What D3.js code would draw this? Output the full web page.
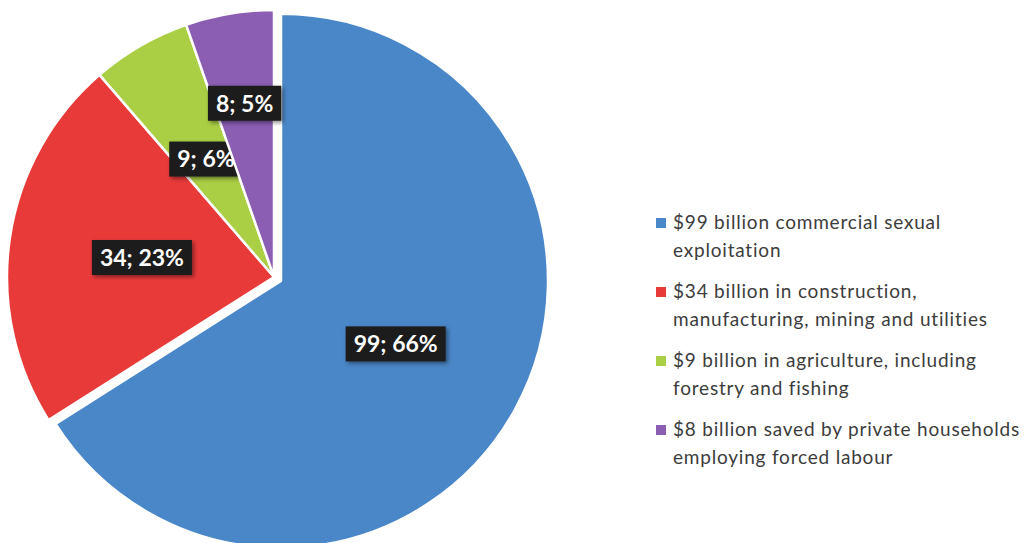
<!DOCTYPE html>
<html>
<head>
<meta charset="utf-8">
<script src="https://cdn.jsdelivr.net/npm/d3@7"></script>
<style>
  html, body { margin: 0; padding: 0; background: #fff; }
  .slice-label { font-family: Lato, "Open Sans", sans-serif; font-weight: bold; font-size: 23px; fill: #fff; }
  .legend-text { font-family: Lato, "Open Sans", sans-serif; font-size: 19px; letter-spacing: 0.8px; fill: #3c3c3c; }
</style>
</head>
<body>
<div id="chart"></div>
<script>
var values = [99, 34, 9, 8];
var colors = ["#4a87c8", "#e93a3a", "#aacf44", "#8b5db3"];
var legendLines = [
  ["$99 billion commercial sexual", "exploitation"],
  ["$34 billion in construction,", "manufacturing, mining and utilities"],
  ["$9 billion in agriculture, including", "forestry and fishing"],
  ["$8 billion saved by private households", "employing forced labour"]
];
var explode = [8, 0, 0, 0];
var labelRadii = [0.49, 0.5, 0.51, 0.66];

var width = 1024, height = 543;
var cx = 274, cy = 277, radius = 267;

var svg = d3.select("#chart").append("svg")
    .attr("width", width)
    .attr("height", height);

var defs = svg.append("defs");
var shadow = defs.append("filter").attr("id", "shadow")
    .attr("x", "-20%").attr("y", "-30%").attr("width", "150%").attr("height", "170%");
shadow.append("feDropShadow")
    .attr("dx", 2).attr("dy", 2).attr("stdDeviation", 2)
    .attr("flood-color", "#000").attr("flood-opacity", 0.45);

var total = d3.sum(values);
var pie = d3.pie().sort(null).value(function(d){ return d; });
var arcs = pie(values);
var arc = d3.arc().innerRadius(0).outerRadius(radius);

var pieGroup = svg.append("g")
    .attr("transform", "translate(" + cx + "," + cy + ")");

function offset(d, i){
    var mid = (d.startAngle + d.endAngle) / 2;
    return [Math.sin(mid) * explode[i], -Math.cos(mid) * explode[i]];
}

var slices = pieGroup.selectAll("g.slice")
    .data(arcs)
    .enter()
    .append("g")
    .attr("class", "slice")
    .attr("transform", function(d, i){
        var o = offset(d, i);
        return "translate(" + o[0] + "," + o[1] + ")";
    });

slices.append("path")
    .attr("d", arc)
    .attr("fill", function(d, i){ return colors[i]; })
    .attr("stroke", "#fff")
    .attr("stroke-width", 2.5)
    .attr("stroke-linejoin", "round");

var labels = slices.append("g")
    .attr("transform", function(d, i){
        var r = radius * labelRadii[i];
        var c = d3.arc().innerRadius(r).outerRadius(r).centroid(d);
        return "translate(" + c[0] + "," + c[1] + ")";
    });

labels.each(function(d, i){
    var g = d3.select(this);
    var box = g.append("rect")
        .attr("fill", "#1b1b1b")
        .attr("filter", "url(#shadow)");
    var t = g.append("text")
        .attr("class", "slice-label")
        .attr("text-anchor", "middle")
        .attr("dy", "0.36em")
        .text(d.data + "; " + Math.round(d.data / total * 100) + "%");
    var w = t.node().getComputedTextLength() + 16;
    var h = 35;
    box.attr("x", -w / 2).attr("y", -h / 2)
        .attr("width", w).attr("height", h);
});

var legend = svg.append("g")
    .attr("transform", "translate(656,229)");

var items = legend.selectAll("g.item")
    .data(legendLines)
    .enter()
    .append("g")
    .attr("class", "item")
    .attr("transform", function(d, i){ return "translate(0," + (i * 69) + ")"; });

items.append("rect")
    .attr("x", 0)
    .attr("y", -11)
    .attr("width", 10)
    .attr("height", 10)
    .attr("fill", function(d, i){ return colors[i]; });

items.append("text")
    .attr("class", "legend-text")
    .selectAll("tspan")
    .data(function(d){ return d; })
    .enter()
    .append("tspan")
    .attr("x", 17)
    .attr("y", function(d, j){ return j * 27.5; })
    .text(function(d){ return d; });
</script>
</body>
</html>
